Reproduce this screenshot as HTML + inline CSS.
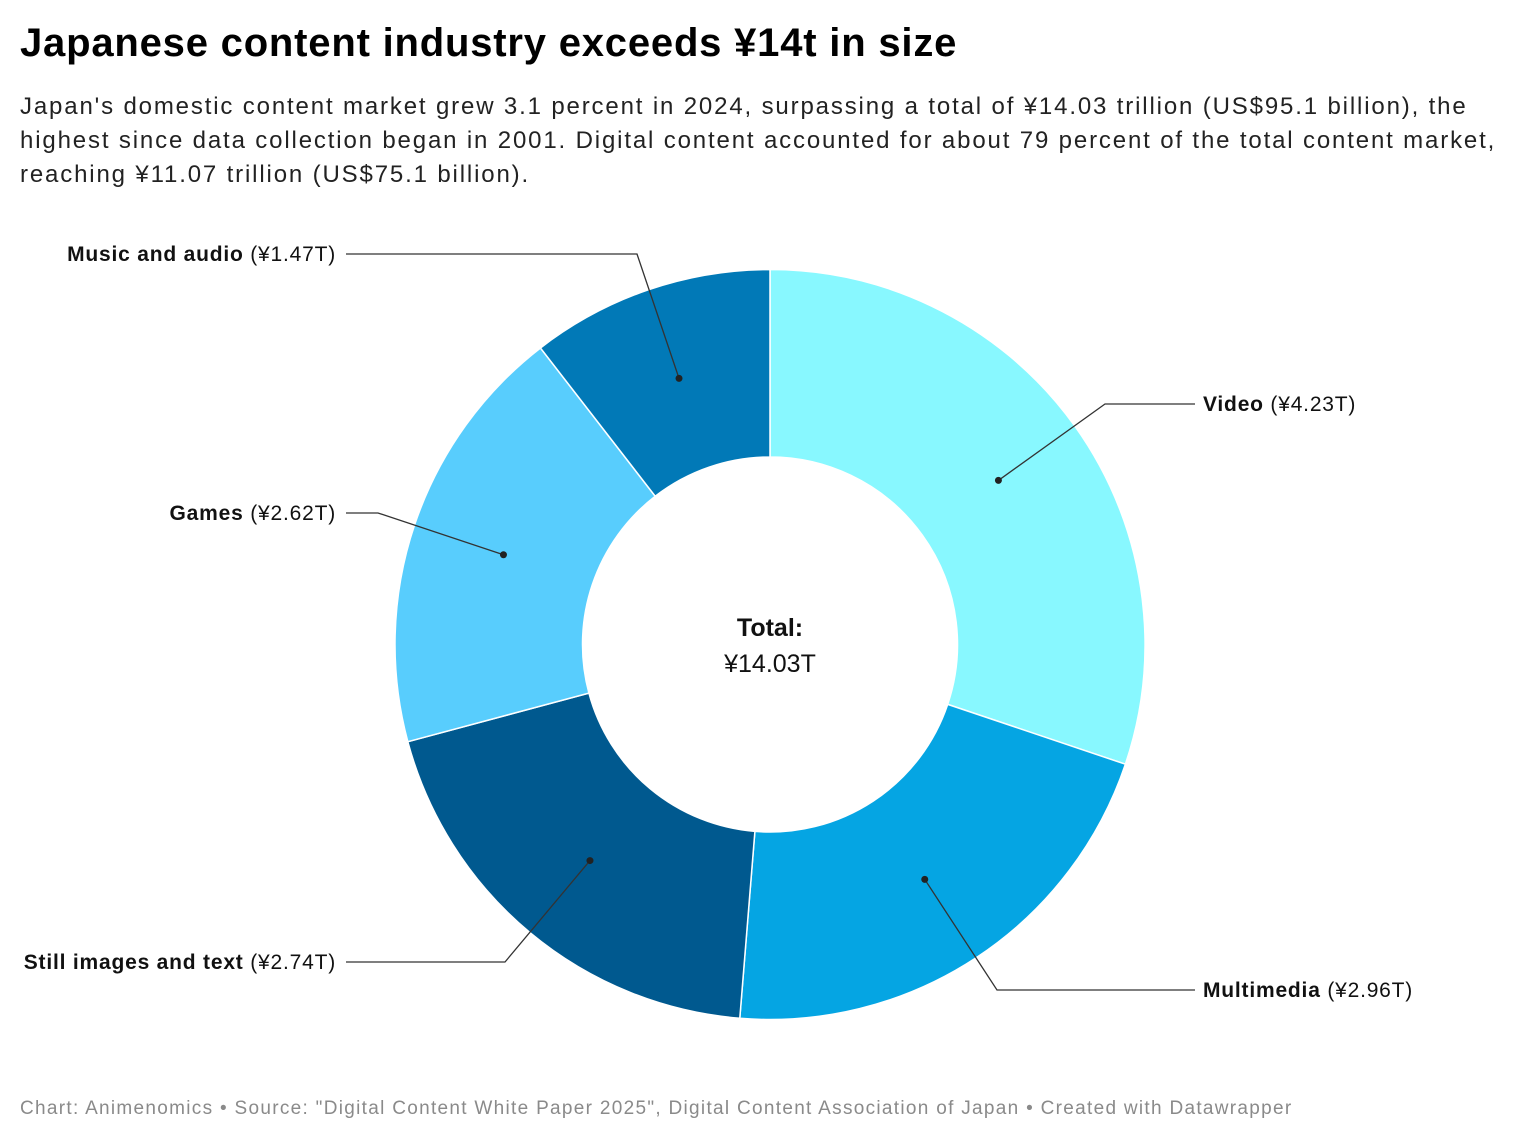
<!DOCTYPE html>
<html><head><meta charset="utf-8">
<style>
body{margin:0;width:1540px;height:1144px;background:#fff;font-family:"Liberation Sans",sans-serif;overflow:hidden}
h1{position:absolute;left:20px;top:21px;margin:0;font-size:40px;font-weight:bold;color:#000;letter-spacing:0.8px;white-space:nowrap}
.sub{position:absolute;left:20px;top:90px;font-size:24px;line-height:34px;color:#222;letter-spacing:1.85px;white-space:nowrap}
.foot{position:absolute;left:20px;top:1098px;font-size:19px;color:#8a8a8a;letter-spacing:1.3px;white-space:nowrap}
</style></head><body>
<h1>Japanese content industry exceeds ¥14t in size</h1>
<div class="sub">Japan's domestic content market grew 3.1 percent in 2024, surpassing a total of ¥14.03 trillion (US$95.1 billion), the<br>highest since data collection began in 2001. Digital content accounted for about 79 percent of the total content market,<br>reaching ¥11.07 trillion (US$75.1 billion).</div>
<svg id="chart" width="1540" height="1144" style="position:absolute;left:0;top:0"></svg>
<div class="foot">Chart: Animenomics • Source: "Digital Content White Paper 2025", Digital Content Association of Japan • Created with Datawrapper</div>
<script>
const categories=["Video","Multimedia","Still images and text","Games","Music and audio"];
const values=[4.23,2.96,2.74,2.62,1.47];
const valueLabels=["¥4.23T","¥2.96T","¥2.74T","¥2.62T","¥1.47T"];
const colors=["#88f8ff","#05a5e3","#00598f","#58cdfd","#0179b7"];
const totalLabel="¥14.03T";
const cx=770,cy=644.5,R=375,r=187.5;
const leaders=[[1105,404,1195,"r"],[997,990,1195,"r"],[505,962,346,"l"],[378,513,346,"l"],[637,254,346,"l"]];
const svg=document.getElementById('chart');
const NS="http://www.w3.org/2000/svg";
const total=values.reduce((a,b)=>a+b,0);
function pt(a,rad){return [cx+rad*Math.sin(a),cy-rad*Math.cos(a)];}
let a0=0;
values.forEach((v,i)=>{
  const a1=a0+v/total*Math.PI*2;
  const [x1,y1]=pt(a0,R),[x2,y2]=pt(a1,R),[x3,y3]=pt(a1,r),[x4,y4]=pt(a0,r);
  const lg=(a1-a0)>Math.PI?1:0;
  const p=document.createElementNS(NS,'path');
  p.setAttribute('d',`M${x1},${y1}A${R},${R} 0 ${lg} 1 ${x2},${y2}L${x3},${y3}A${r},${r} 0 ${lg} 0 ${x4},${y4}Z`);
  p.setAttribute('fill',colors[i]);p.setAttribute('stroke','#fff');p.setAttribute('stroke-width','1.5');
  
  
  svg.appendChild(p);
  const [dx,dy]=pt((a0+a1)/2,(R+r)/2);
  const L=leaders[i];
  const pl=document.createElementNS(NS,'polyline');
  pl.setAttribute('points',`${dx},${dy} ${L[0]},${L[1]} ${L[2]},${L[1]}`);
  pl.setAttribute('fill','none');pl.setAttribute('stroke','#333');pl.setAttribute('stroke-width','1.3');
  
  
  svg.appendChild(pl);
  const c=document.createElementNS(NS,'circle');
  c.setAttribute('cx',dx);c.setAttribute('cy',dy);c.setAttribute('r',3.5);c.setAttribute('fill','#222');
  
  
  svg.appendChild(c);
  const t=document.createElementNS(NS,'text');
  const right=L[3]==="r";
  t.setAttribute('x',right?L[2]+8:L[2]-10);t.setAttribute('y',L[1]+7);
  t.setAttribute('text-anchor',right?'start':'end');
  t.setAttribute('font-size','21');t.setAttribute('fill','#111');t.setAttribute('letter-spacing','0.8');
  
  
  t.innerHTML=`<tspan font-weight="bold">${categories[i]}</tspan> (${valueLabels[i]})`;
  svg.appendChild(t);
  a0=a1;
});
const t1=document.createElementNS(NS,'text');
t1.setAttribute('x',cx);t1.setAttribute('y',636);t1.setAttribute('text-anchor','middle');
t1.setAttribute('font-size','25');t1.setAttribute('font-weight','bold');t1.setAttribute('fill','#111');


t1.textContent="Total:";svg.appendChild(t1);
const t2=document.createElementNS(NS,'text');
t2.setAttribute('x',cx);t2.setAttribute('y',672);t2.setAttribute('text-anchor','middle');
t2.setAttribute('font-size','25');t2.setAttribute('fill','#111');


t2.textContent=totalLabel;svg.appendChild(t2);
</script>
</body></html>
